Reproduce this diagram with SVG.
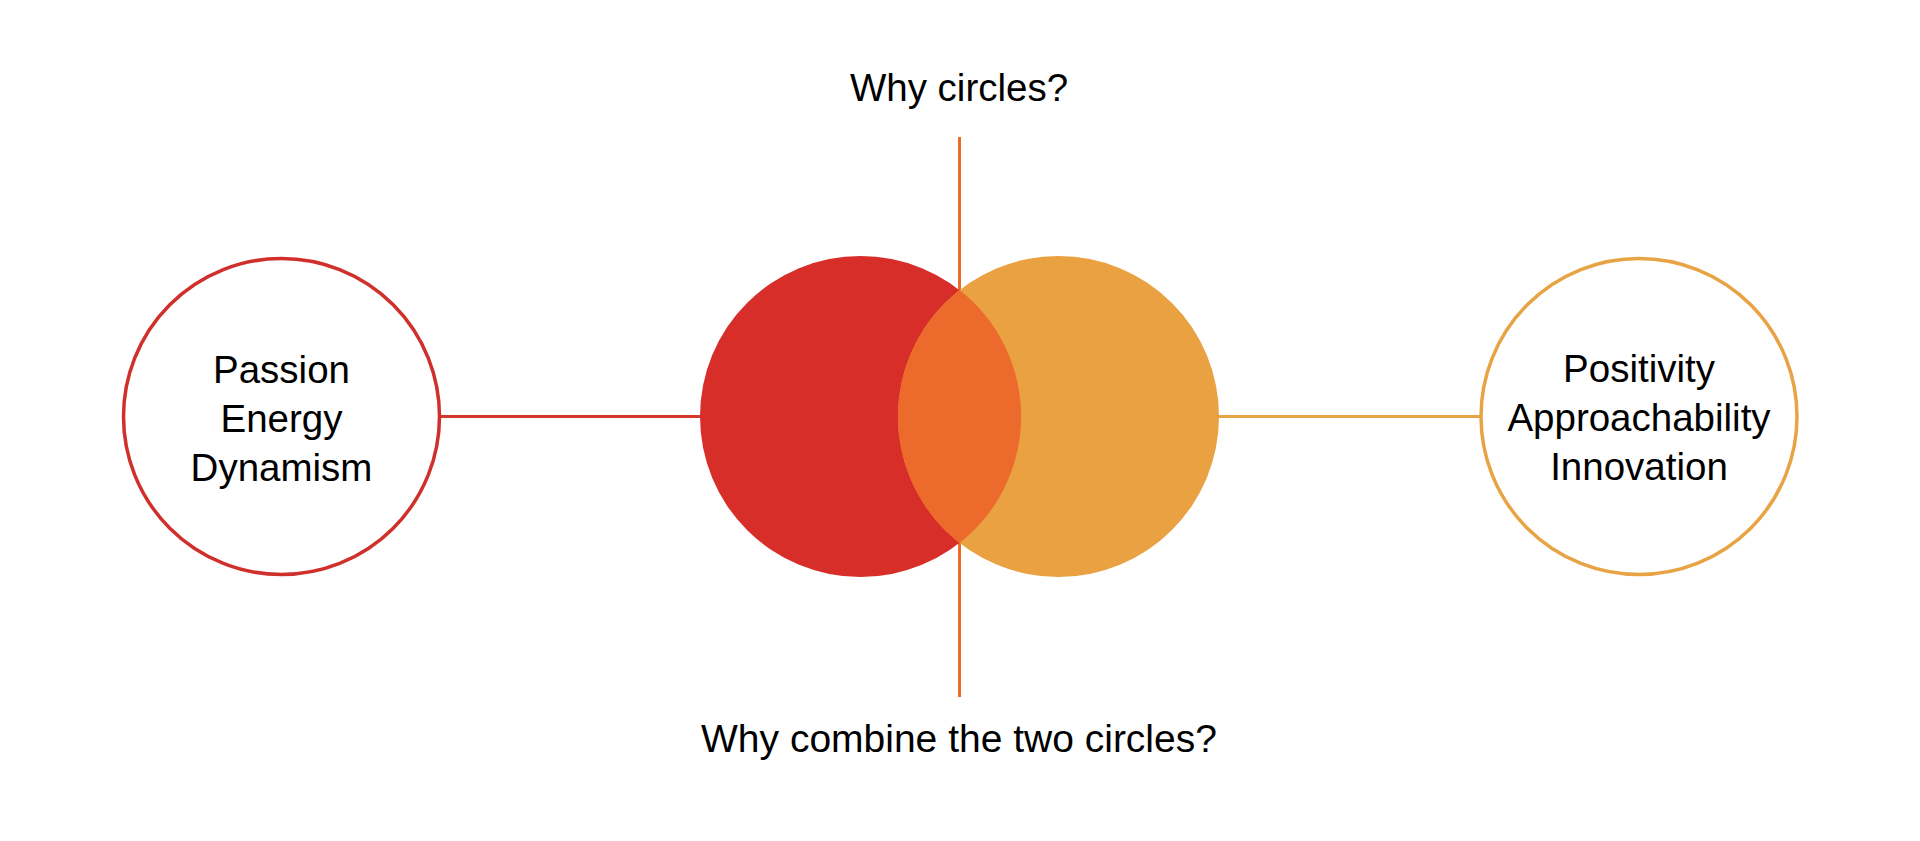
<svg xmlns="http://www.w3.org/2000/svg" width="1920" height="841" viewBox="0 0 1920 841">
  <style>
    .t { font-family: "Liberation Sans", Arial, Helvetica, sans-serif; font-size: 38.5px; fill: #000; text-anchor: middle; }
    .big { font-size: 39px; }
    .ring { fill: #fff; stroke-width: 3.5; }
    .ln { stroke-width: 3; fill: none; }
  </style>
  <rect width="1920" height="841" fill="#fff"/>
  <g id="connectors">
    <line class="ln" x1="959.5" y1="137" x2="959.5" y2="697" stroke="#EC6A2C"/>
    <line class="ln" x1="441" y1="416.5" x2="701" y2="416.5" stroke="#D33A2C"/>
    <line class="ln" x1="1217" y1="416.5" x2="1481" y2="416.5" stroke="#E8A444"/>
  </g>
  <g id="red-circle">
    <circle cx="860.5" cy="416.5" r="160.5" fill="#D72E2A"/>
  </g>
  <g id="orange-circle">
    <circle cx="1058.5" cy="416.5" r="160.5" fill="#E9A141"/>
  </g>
  <g id="overlap">
    <path d="M959.5 290.1 A160.5 160.5 0 0 1 959.5 542.9 A160.5 160.5 0 0 1 959.5 290.1 Z" fill="#EC6A2C"/>
  </g>
  <g id="node-left">
    <circle class="ring" cx="281.5" cy="416.5" r="158" stroke="#D0302B"/>
    <text class="t" x="281.5" y="383">Passion</text>
    <text class="t" x="281.5" y="432">Energy</text>
    <text class="t" x="281.5" y="481">Dynamism</text>
  </g>
  <g id="node-right">
    <circle class="ring" cx="1639" cy="416.5" r="158" stroke="#E8A444"/>
    <text class="t" x="1639" y="382">Positivity</text>
    <text class="t" x="1639" y="431">Approachability</text>
    <text class="t" x="1639" y="480">Innovation</text>
  </g>
  <g id="label-top">
    <text class="t" x="959" y="101">Why circles?</text>
  </g>
  <g id="label-bottom">
    <text class="t big" x="959" y="752">Why combine the two circles?</text>
  </g>
</svg>
